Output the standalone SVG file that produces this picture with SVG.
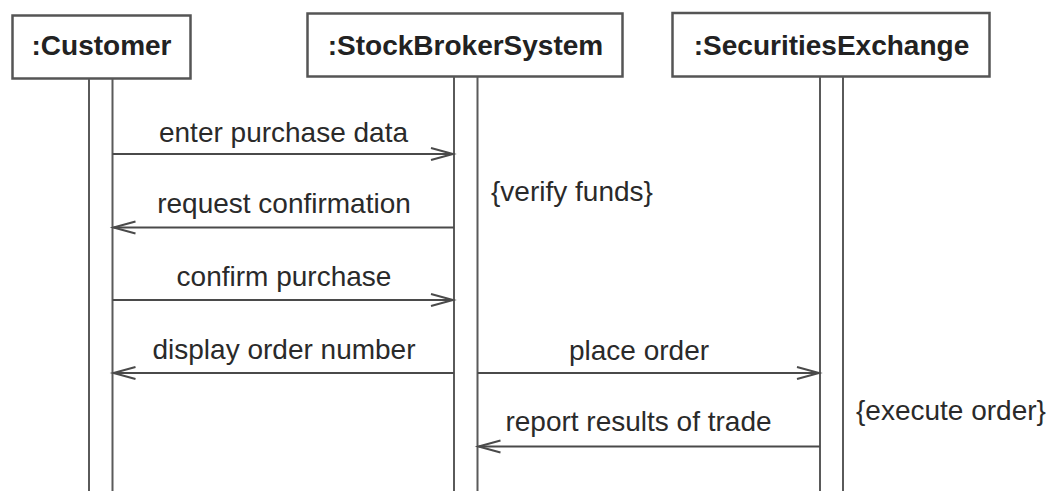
<svg xmlns="http://www.w3.org/2000/svg" width="1052" height="491" viewBox="0 0 1052 491">
  <defs>
    <style>
      .box { fill: #ffffff; stroke: #555555; stroke-width: 2.5; }
      .title { font-family: "Liberation Sans", Arial, sans-serif; font-size: 28px; font-weight: bold; fill: #222222; text-anchor: middle; }
      .life { fill: none; stroke: #5a5a5a; stroke-width: 2; }
      .msg { fill: none; stroke: #4a4a4a; stroke-width: 2; marker-end: url(#open); }
      .lbl { font-family: "Liberation Sans", Arial, sans-serif; font-size: 28px; fill: #2a2a2a; text-anchor: middle; }
      .note { font-family: "Liberation Sans", Arial, sans-serif; font-size: 28px; fill: #2a2a2a; }
    </style>
    <marker id="open" markerUnits="userSpaceOnUse" markerWidth="30" markerHeight="20" viewBox="-26 -10 30 20" refX="0" refY="0" orient="auto" overflow="visible">
      <path d="M -22 -6 L 0 0 L -22 6" fill="none" stroke="#4a4a4a" stroke-width="2"/>
    </marker>
  </defs>
  <rect width="1052" height="491" fill="#ffffff"/>

  <g id="customer">
    <rect class="box" x="12.5" y="15.5" width="178" height="63"/>
    <text class="title" x="101.5" y="55">:Customer</text>
    <line class="life" x1="89" y1="79" x2="89" y2="491"/>
    <line class="life" x1="112.5" y1="79" x2="112.5" y2="491"/>
  </g>

  <g id="stockbroker">
    <rect class="box" x="307.5" y="13.5" width="315" height="63"/>
    <text class="title" x="465.5" y="55">:StockBrokerSystem</text>
    <line class="life" x1="454" y1="77" x2="454" y2="491"/>
    <line class="life" x1="477.5" y1="77" x2="477.5" y2="491"/>
  </g>

  <g id="exchange">
    <rect class="box" x="672.5" y="13" width="317" height="63.5"/>
    <text class="title" x="831.5" y="55">:SecuritiesExchange</text>
    <line class="life" x1="820" y1="77" x2="820" y2="491"/>
    <line class="life" x1="843" y1="77" x2="843" y2="491"/>
  </g>

  <g id="connectors">
    <line class="msg" x1="112.5" y1="154" x2="453" y2="154"/>
    <line class="msg" x1="454" y1="227.5" x2="113.5" y2="227.5"/>
    <line class="msg" x1="112.5" y1="300" x2="453" y2="300"/>
    <line class="msg" x1="454" y1="373" x2="113.5" y2="373"/>
    <line class="msg" x1="477.5" y1="373" x2="819" y2="373"/>
    <line class="msg" x1="820" y1="446.5" x2="478.5" y2="446.5"/>
  </g>

  <g id="labels">
    <text class="lbl" x="283.5" y="141.5">enter purchase data</text>
    <text class="lbl" x="284" y="213">request confirmation</text>
    <text class="lbl" x="284" y="286">confirm purchase</text>
    <text class="lbl" x="284" y="359">display order number</text>
    <text class="lbl" x="639" y="360">place order</text>
    <text class="lbl" x="638.5" y="431">report results of trade</text>
  </g>

  <g id="constraints">
    <text class="note" x="491" y="201">{verify funds}</text>
    <text class="note" x="856" y="420">{execute order}</text>
  </g>
</svg>
